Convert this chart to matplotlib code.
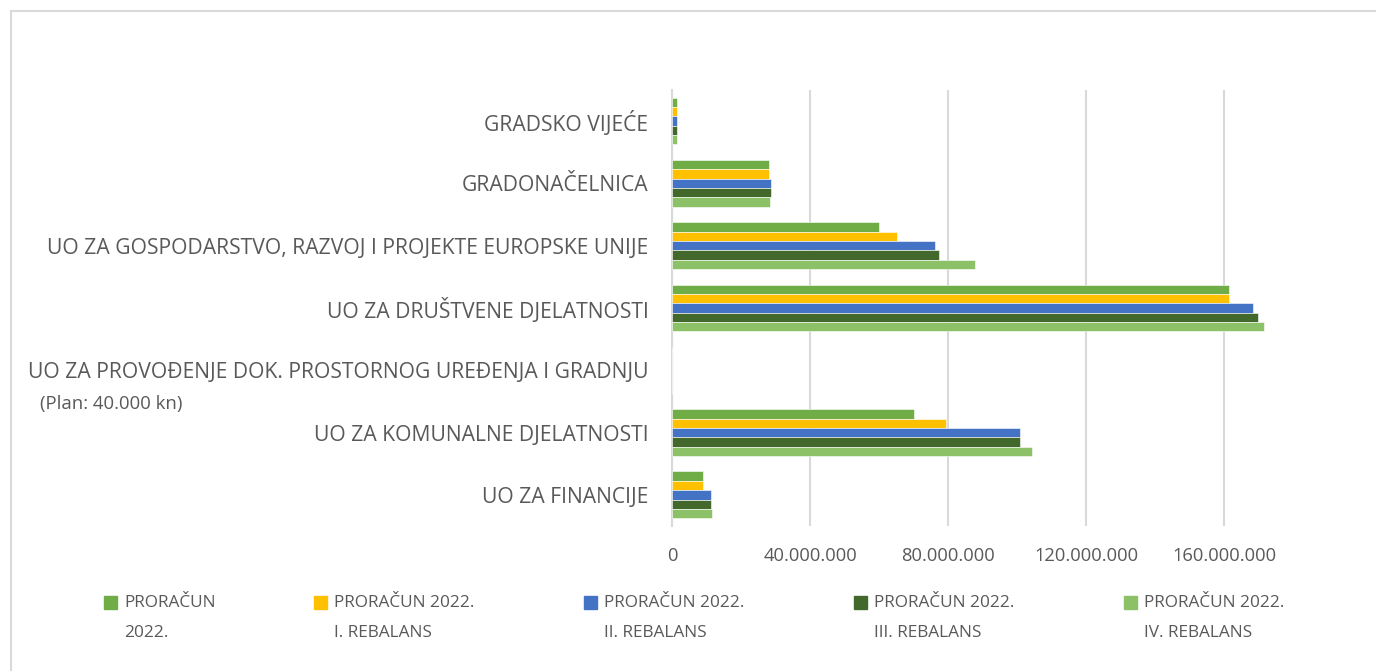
import matplotlib
matplotlib.use('Agg')
import matplotlib.pyplot as plt
from matplotlib.patches import Rectangle
from matplotlib.lines import Line2D
from matplotlib.ticker import FuncFormatter
import numpy as np

plt.rcParams['font.family'] = ['Open Sans', 'DejaVu Sans']

# categories, top to bottom
categories = [
    'GRADSKO VIJEĆE',
    'GRADONAČELNICA',
    'UO ZA GOSPODARSTVO, RAZVOJ I PROJEKTE EUROPSKE UNIJE',
    'UO ZA DRUŠTVENE DJELATNOSTI',
    'UO ZA PROVOĐENJE DOK. PROSTORNOG UREĐENJA I GRADNJU',
    'UO ZA KOMUNALNE DJELATNOSTI',
    'UO ZA FINANCIJE',
]
note = '(Plan: 40.000 kn)'

series_labels = [
    'PRORAČUN\n2022.',
    'PRORAČUN 2022.\nI. REBALANS',
    'PRORAČUN 2022.\nII. REBALANS',
    'PRORAČUN 2022.\nIII. REBALANS',
    'PRORAČUN 2022.\nIV. REBALANS',
]

# values in kn
proracun   = [1.3e6, 28.2e6, 59.9e6, 161.5e6, 0.04e6, 70.2e6, 9.1e6]
rebalans_1 = [1.3e6, 28.2e6, 65.3e6, 161.4e6, 0.04e6, 79.5e6, 9.1e6]
rebalans_2 = [1.3e6, 28.7e6, 76.1e6, 168.5e6, 0.04e6, 100.9e6, 11.3e6]
rebalans_3 = [1.3e6, 28.8e6, 77.5e6, 169.9e6, 0.04e6, 100.9e6, 11.3e6]
rebalans_4 = [1.5e6, 28.4e6, 87.8e6, 171.5e6, 0.04e6, 104.3e6, 11.7e6]

series = [proracun, rebalans_1, rebalans_2, rebalans_3, rebalans_4]
colors = ['#70AD47', '#FFC000', '#4472C4', '#43682B', '#8CC168']
txt_col = '#595959'

fig = plt.figure(figsize=(13.76, 6.71), dpi=100)
ax = fig.add_axes([0.4884, 0.2161, 0.4513, 0.6498])

y = np.arange(len(categories))
h = 0.15
for i, (vals, c) in enumerate(zip(series, colors)):
    ax.barh(y + (i - 2) * h, vals, height=h, color=c, edgecolor='white',
            linewidth=0.4, zorder=3)

ax.set_ylim(len(categories) - 0.5, -0.5)
ax.set_xlim(0, 180e6)
ax.set_xticks([0, 40e6, 80e6, 120e6, 160e6])
ax.xaxis.set_major_formatter(FuncFormatter(lambda v, p: f'{int(v):,}'.replace(',', '.')))
ax.grid(axis='x', color='#d9d9d9', linewidth=1.5, zorder=0)
ax.set_yticks(y)
ax.set_yticklabels(categories)
ax.tick_params(axis='y', length=0, pad=17, labelsize=15.2, labelcolor=txt_col)
ax.tick_params(axis='x', length=0, pad=15, labelsize=13.2, labelcolor=txt_col)
for s in ['top', 'right', 'bottom']:
    ax.spines[s].set_visible(False)
ax.spines['left'].set_color('#d9d9d9')
ax.spines['left'].set_linewidth(1.5)

# note under the empty category
fig.text(40 / 1376, 1 - 404 / 671, note, fontsize=13.3, color=txt_col,
         ha='left', va='center')

# legend drawn by hand
leg_x = [104, 314, 584, 854, 1124]
for lx, lab, c in zip(leg_x, series_labels, colors):
    fig.patches.append(Rectangle((lx / 1376, 1 - 609 / 671), 13 / 1376, 13 / 671,
                                 transform=fig.transFigure, color=c))
    fig.text((lx + 20) / 1376, 1 - 595 / 671, lab, fontsize=12.4, color=txt_col,
             ha='left', va='top', linespacing=2.15)

# outer frame
fig.add_artist(Line2D([11 / 1376, 1], [1 - 11 / 671, 1 - 11 / 671],
                      transform=fig.transFigure, color='#d9d9d9', linewidth=1.5))
fig.add_artist(Line2D([11 / 1376, 11 / 1376], [0, 1 - 11 / 671],
                      transform=fig.transFigure, color='#d9d9d9', linewidth=1.5))

fig.savefig('out.png', dpi=100)
